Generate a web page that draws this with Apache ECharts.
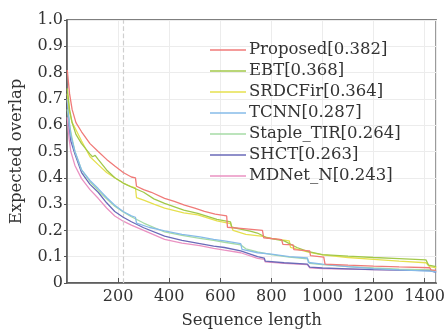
<!DOCTYPE html>
<html>
<head>
<meta charset="utf-8">
<script src="https://cdn.jsdelivr.net/npm/echarts@6/dist/echarts.min.js"></script>
<style>
  html, body { margin: 0; padding: 0; background: #fff; }
  #chart { width: 448px; height: 334px; }
</style>
</head>
<body>
<div id="chart"></div>
<script>
// expected average overlap curves, [sequence length, overlap]
const trackers = ['Proposed[0.382]', 'EBT[0.368]', 'SRDCFir[0.364]', 'TCNN[0.287]', 'Staple_TIR[0.264]', 'SHCT[0.263]', 'MDNet_N[0.243]'];
const colors = ['#f07a78', '#a2c84a', '#e6e04e', '#86bbe8', '#a6dba6', '#6a6ab8', '#ea92c2'];

const proposed = [[1,0.81],[10,0.72],[20,0.66],[35,0.61],[57,0.575],[90,0.53],[122,0.50],[155,0.47],[187,0.445],[220,0.42],[252,0.403],[268,0.40],[272,0.368],[300,0.355],[330,0.345],[382,0.322],[420,0.31],[460,0.296],[500,0.285],[538,0.272],[580,0.262],[625,0.255],[628,0.212],[680,0.208],[765,0.20],[770,0.172],[840,0.165],[845,0.147],[885,0.145],[888,0.127],[950,0.122],[953,0.104],[1005,0.098],[1010,0.072],[1100,0.068],[1200,0.064],[1300,0.061],[1420,0.058],[1425,0.05],[1445,0.048]];
const ebt = [[1,0.74],[10,0.66],[20,0.61],[35,0.565],[57,0.53],[90,0.49],[100,0.48],[110,0.485],[122,0.47],[155,0.43],[187,0.40],[220,0.38],[252,0.365],[300,0.345],[340,0.32],[382,0.303],[457,0.277],[512,0.265],[587,0.242],[640,0.232],[645,0.212],[717,0.197],[745,0.19],[782,0.172],[850,0.16],[900,0.135],[941,0.12],[1000,0.108],[1100,0.102],[1200,0.097],[1300,0.093],[1405,0.088],[1415,0.068],[1445,0.062]];
const srdcfir = [[1,0.72],[10,0.65],[20,0.61],[31,0.59],[57,0.54],[90,0.48],[122,0.45],[155,0.42],[187,0.40],[220,0.38],[252,0.366],[268,0.362],[272,0.325],[300,0.315],[340,0.30],[382,0.285],[457,0.267],[512,0.259],[587,0.236],[640,0.226],[650,0.2],[700,0.185],[760,0.178],[800,0.17],[870,0.16],[875,0.135],[941,0.118],[1000,0.107],[1100,0.097],[1200,0.09],[1300,0.083],[1405,0.077],[1420,0.062],[1445,0.058]];
const tcnn = [[1,0.70],[8,0.62],[15,0.56],[31,0.50],[57,0.43],[90,0.39],[122,0.359],[155,0.325],[187,0.296],[220,0.272],[252,0.255],[268,0.25],[272,0.228],[320,0.212],[382,0.198],[450,0.185],[520,0.175],[574,0.166],[616,0.16],[680,0.15],[685,0.128],[746,0.115],[800,0.11],[870,0.1],[941,0.095],[945,0.078],[1000,0.072],[1100,0.062],[1200,0.055],[1300,0.05],[1420,0.045],[1445,0.042]];
const stapleTir = [[1,0.66],[10,0.6],[20,0.55],[31,0.5],[57,0.43],[90,0.385],[122,0.352],[155,0.32],[187,0.292],[220,0.27],[252,0.252],[300,0.228],[382,0.194],[450,0.181],[520,0.17],[574,0.162],[616,0.155],[680,0.145],[700,0.13],[746,0.118],[800,0.108],[870,0.098],[941,0.092],[950,0.075],[1000,0.07],[1100,0.062],[1200,0.057],[1300,0.053],[1420,0.05],[1445,0.045]];
const shct = [[1,0.70],[8,0.60],[15,0.54],[31,0.49],[57,0.42],[90,0.375],[122,0.345],[155,0.305],[187,0.272],[220,0.25],[252,0.233],[300,0.21],[382,0.178],[450,0.162],[520,0.15],[574,0.14],[616,0.135],[680,0.122],[746,0.1],[772,0.095],[776,0.083],[850,0.077],[941,0.072],[950,0.06],[1000,0.057],[1100,0.054],[1200,0.051],[1300,0.049],[1420,0.047],[1445,0.04]];
const mdnetN = [[1,0.63],[8,0.55],[15,0.5],[31,0.447],[57,0.397],[90,0.355],[122,0.322],[155,0.285],[187,0.255],[220,0.235],[252,0.22],[300,0.2],[382,0.166],[450,0.152],[520,0.142],[574,0.132],[616,0.125],[680,0.115],[746,0.094],[772,0.09],[776,0.08],[850,0.075],[941,0.07],[950,0.058],[1000,0.055],[1100,0.053],[1200,0.051],[1300,0.05],[1420,0.049],[1445,0.043]];

const curves = [proposed, ebt, srdcfir, tcnn, stapleTir, shct, mdnetN];
const avgLength = 222; // dashed reference line

const font = 'DejaVu Serif';
const chart = echarts.init(document.getElementById('chart'), null, { renderer: 'canvas' });

const series = curves.map((d, i) => ({
  name: trackers[i],
  type: 'line',
  data: d,
  symbol: 'none',
  lineStyle: { width: 1.3, color: colors[i] },
  itemStyle: { color: colors[i] },
  z: 10 - i
}));
series[0].markLine = {
  silent: true,
  symbol: 'none',
  label: { show: false },
  lineStyle: { type: 'dashed', color: '#cfcfcf', width: 1.2 },
  data: [{ xAxis: avgLength }]
};

chart.setOption({
  animation: false,
  textStyle: { fontFamily: font },
  grid: { left: 66, right: 11, top: 20, bottom: 48, show: true, borderColor: '#555', borderWidth: 1.5 },
  legend: {
    orient: 'vertical',
    left: 210,
    top: 40,
    padding: 0,
    icon: 'rect',
    itemWidth: 36,
    itemHeight: 1.5,
    itemGap: 1,
    textStyle: { fontFamily: font, fontSize: 16.5, lineHeight: 20, color: '#333', padding: [0, 0, 0, -2] },
    data: trackers
  },
  xAxis: {
    type: 'value',
    min: 0,
    max: 1445,
    interval: 200,
    name: 'Sequence length',
    nameLocation: 'middle',
    nameGap: 29,
    nameTextStyle: { fontFamily: font, fontSize: 16.5, color: '#333' },
    axisLine: { lineStyle: { color: '#555', width: 1.5 } },
    axisTick: { inside: true, length: 5, lineStyle: { color: '#555' } },
    axisLabel: {
      fontFamily: font, fontSize: 16, color: '#333', margin: 6,
      showMinLabel: false, showMaxLabel: false,
      formatter: v => (v === 0 ? '' : String(v))
    },
    splitLine: { show: true, lineStyle: { color: '#ececec', width: 1 } }
  },
  yAxis: {
    type: 'value',
    min: 0,
    max: 1,
    interval: 0.1,
    name: 'Expected overlap',
    nameLocation: 'middle',
    nameGap: 42,
    nameTextStyle: { fontFamily: font, fontSize: 16.5, color: '#333' },
    axisLine: { show: true, lineStyle: { color: '#555', width: 1.5 } },
    axisTick: { show: true, length: 3, lineStyle: { color: '#555' } },
    axisLabel: {
      fontFamily: font, fontSize: 16, color: '#333', margin: 4,
      formatter: v => (v === 0 ? '0' : v.toFixed(1))
    },
    splitLine: { show: true, lineStyle: { color: '#ececec', width: 1 } }
  },
  series: series
});
</script>
</body>
</html>
